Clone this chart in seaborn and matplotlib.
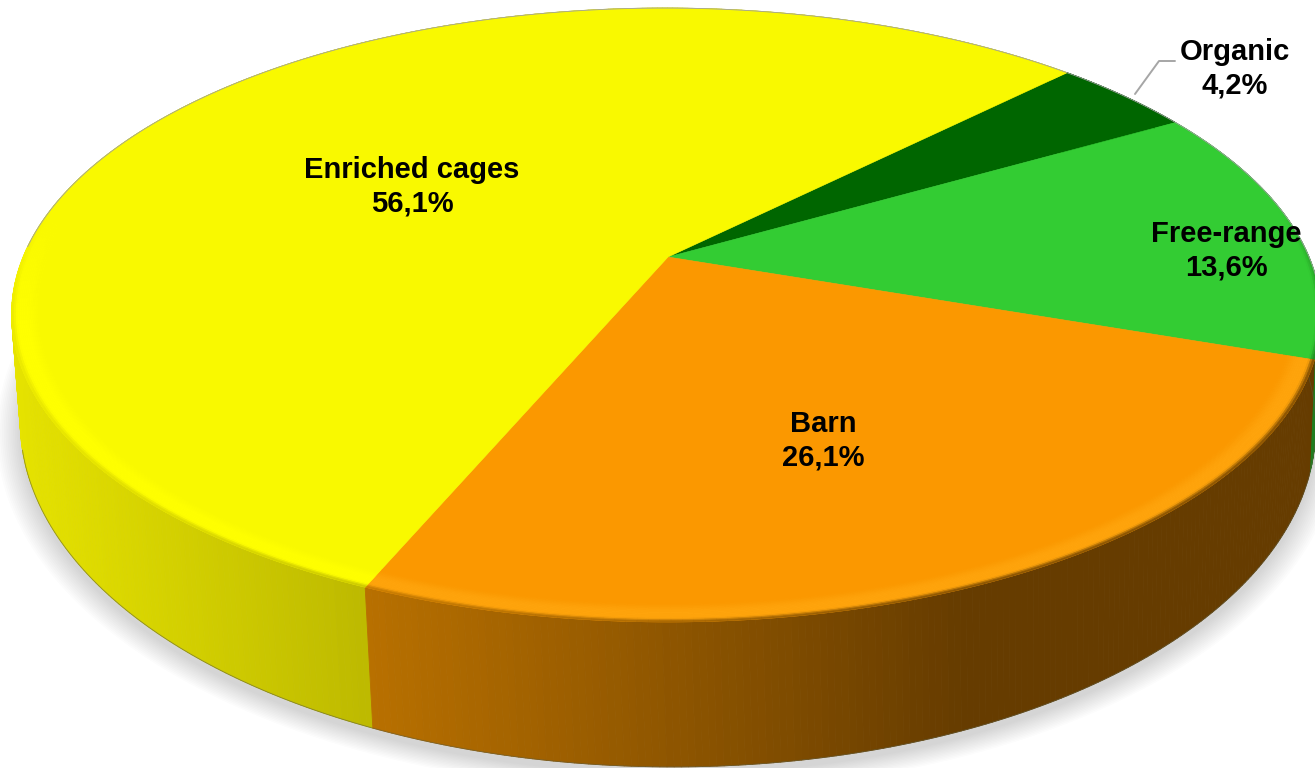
import numpy as np
import seaborn as sns
import matplotlib.pyplot as plt
from matplotlib.collections import PolyCollection
from matplotlib.colors import to_rgb

# slice data, clockwise from the start angle
categories = ["Organic", "Free-range", "Barn", "Enriched cages"]
shares = [4.2, 13.6, 26.1, 56.1]
share_labels = ["4,2%", "13,6%", "26,1%", "56,1%"]
face_colors = ["#006600", "#33cc33", "#fb9800", "#f9f900"]
rim_colors = ["#006600", "#33cc33", "#ffa40c", "#ffff00"]
wall_left = ["#004000", "#1f7d1f", "#b87000", "#e6e300"]
wall_right = ["#004000", "#1f7d1f", "#663c00", "#bdb900"]
wall_span = [(1100, 1315), (1100, 1315), (370, 960), (20, 373)]

START_ANGLE = 45.0
TILT = 0.189
SKEW = 0.003


def project(theta, radius, center, size, shear):
    # perspective view of a circle lying in a plane tipped away from the viewer
    x = radius * np.cos(theta)
    y = radius * np.sin(theta)
    w = 1 + TILT * y + SKEW * x
    return center[0] + (size[0] * x + shear * y) / w, center[1] - size[1] * y / w


def top_rim(theta, radius=1.0):
    return project(theta, radius, (668, 257), (643, 296), -2)


def bottom_rim(theta, radius=1.0):
    return project(theta, radius, (669, 360), (636, 330), -5)


def slice_angles():
    edges = START_ANGLE - np.cumsum([0] + shares) * 3.6
    return np.deg2rad(edges)


def wall_colour(i, x):
    ramp = sns.blend_palette([wall_left[i], wall_right[i]], 64)
    lo, hi = wall_span[i]
    pos = np.clip((x - lo) / (hi - lo), 0, 1)
    return np.array(ramp[int(pos * 63)])


def smooth(a, b, v):
    s = np.clip((v - a) / (b - a), 0, 1)
    return s * s * (3 - 2 * s)


def draw_shadow(ax):
    t = np.linspace(0, 2 * np.pi, 360)
    for grow in np.linspace(1.035, 1.0, 14):
        x, y = bottom_rim(t, grow)
        ax.fill(x, y + 7, color="#404040", alpha=0.017, lw=0, zorder=1)


def draw_walls(ax, edges):
    polys, colours, depth = [], [], []
    for i in range(len(shares)):
        n = max(int(abs(edges[i + 1] - edges[i]) * 110), 2)
        t = np.linspace(edges[i], edges[i + 1], n + 1)
        xt, yt = top_rim(t)
        xb, yb = bottom_rim(t)
        for j in range(n):
            polys.append([(xt[j], yt[j]), (xt[j + 1], yt[j + 1]),
                          (xb[j + 1], yb[j + 1]), (xb[j], yb[j])])
            colours.append(wall_colour(i, 0.5 * (xb[j] + xb[j + 1])))
            depth.append(yb[j])
    order = np.argsort(depth)
    coll = PolyCollection([polys[k] for k in order],
                          facecolors=[colours[k] for k in order],
                          edgecolors=[colours[k] for k in order],
                          linewidths=0.6, zorder=2)
    ax.add_collection(coll)


def draw_top(ax, edges):
    for i in range(len(shares)):
        t = np.linspace(edges[i], edges[i + 1], 200)
        x, y = top_rim(t)
        x = np.r_[668, x]
        y = np.r_[257, y]
        ax.fill(x, y, color=face_colors[i], lw=0.4, zorder=3)


def draw_bevel(ax, edges):
    # lighter strip along the front of the rim that melts into the wall colour
    bands = np.linspace(0.955, 1.0, 17)
    polys, colours = [], []
    for i in range(len(shares)):
        face = np.array(to_rgb(face_colors[i]))
        rim = np.array(to_rgb(rim_colors[i]))
        n = max(int(abs(edges[i + 1] - edges[i]) * 70), 2)
        t = np.linspace(edges[i], edges[i + 1], n + 1)
        for b in range(len(bands) - 1):
            f = (b + 0.5) / (len(bands) - 1)
            lift = smooth(0.0, 0.55, f)
            melt = smooth(0.8, 1.0, f) * 0.8
            xi, yi = top_rim(t, bands[b])
            xo, yo = top_rim(t, bands[b + 1])
            for j in range(n):
                tm = 0.5 * (t[j] + t[j + 1])
                # only the near half of the pie has the visible bevel
                front = np.clip(-np.sin(tm) * 2.5 + 0.4, 0, 1)
                wall = wall_colour(i, 0.5 * (xo[j] + xo[j + 1]))
                col = face + (rim - face) * lift
                col = col + (wall - col) * melt
                col = face + (col - face) * front
                polys.append([(xi[j], yi[j]), (xi[j + 1], yi[j + 1]),
                              (xo[j + 1], yo[j + 1]), (xo[j], yo[j])])
                colours.append(col)
    ax.add_collection(PolyCollection(polys, facecolors=colours, edgecolors=colours,
                                     linewidths=0.4, zorder=4))


def draw_edges(ax):
    # thin grey outline on the back of the top face and the foot of the wall
    t = np.deg2rad(np.linspace(-5, 178, 300))
    x, y = top_rim(t)
    ax.plot(x, y, color="#a0a0a0", lw=0.6, zorder=5)
    t = np.deg2rad(np.linspace(195, 370, 400))
    x, y = bottom_rim(t)
    ax.plot(x, y, color="#5a5a3c", lw=0.6, alpha=0.6, zorder=2.5)


def draw_labels(ax):
    spots = [(1235, 69), (1226, 251), (823, 441), (412, 187)]
    for name, pct, (x, y) in zip(categories, share_labels, spots):
        ax.text(x, y, name + "\n" + pct, ha="center", va="center",
                fontsize=21, fontweight="bold", color="black",
                family="Liberation Sans", linespacing=1.25, zorder=6)
    # leader line for the small slice
    ax.plot([1135, 1159, 1175], [94, 61, 61], color="#a6a6a6", lw=1.4, zorder=6)


def main():
    sns.set_theme(style="white")
    fig = plt.figure(figsize=(13.15, 7.68), dpi=100)
    ax = fig.add_axes([0, 0, 1, 1])
    ax.set_xlim(0, 1315)
    ax.set_ylim(768, 0)
    ax.axis("off")

    edges = slice_angles()
    draw_shadow(ax)
    draw_walls(ax, edges)
    draw_edges(ax)
    draw_top(ax, edges)
    draw_bevel(ax, edges)
    draw_labels(ax)

    fig.savefig("out.png", dpi=100, facecolor="white")
    plt.close(fig)


if __name__ == "__main__":
    main()
